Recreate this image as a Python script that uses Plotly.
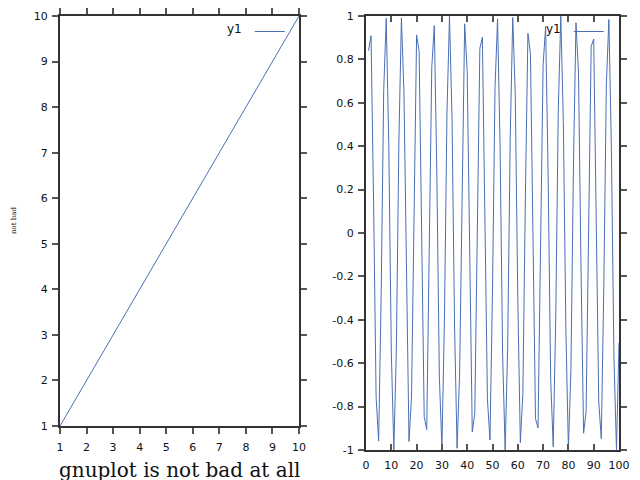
import plotly.graph_objects as go

# ---- data ----
line_x = [1, 2, 3, 4, 5, 6, 7, 8, 9, 10]
line_y = [1, 2, 3, 4, 5, 6, 7, 8, 9, 10]

wave_x = list(range(1, 101))
wave_y = [
    0.841, 0.909, 0.141, -0.757, -0.959, -0.279, 0.657, 0.989, 0.412, -0.544,
    -1.000, -0.537, 0.420, 0.991, 0.650, -0.288, -0.961, -0.751, 0.150, 0.913,
    0.837, -0.009, -0.846, -0.906, -0.132, 0.763, 0.956, 0.271, -0.664, -0.988,
    -0.404, 0.551, 1.000, 0.529, -0.428, -0.992, -0.644, 0.296, 0.964, 0.745,
    -0.158, -0.917, -0.832, 0.018, 0.851, 0.902, 0.124, -0.768, -0.954, -0.262,
    0.670, 0.987, 0.396, -0.559, -1.000, -0.522, 0.436, 0.993, 0.637, -0.305,
    -0.966, -0.739, 0.167, 0.920, 0.827, -0.027, -0.856, -0.898, -0.115, 0.774,
    0.951, 0.254, -0.677, -0.985, -0.388, 0.566, 0.999, 0.514, -0.444, -0.994,
    -0.629, 0.313, 0.969, 0.733, -0.176, -0.923, -0.822, 0.035, 0.860, 0.894,
    0.106, -0.779, -0.948, -0.245, 0.683, 0.984, 0.379, -0.573, -0.999, -0.506,
]

left_ticks = [1, 2, 3, 4, 5, 6, 7, 8, 9, 10]
right_xticks = [0, 10, 20, 30, 40, 50, 60, 70, 80, 90, 100]
right_yticks = [-1, -0.8, -0.6, -0.4, -0.2, 0, 0.2, 0.4, 0.6, 0.8, 1]
right_ylabels = ["-1", "-0.8", "-0.6", "-0.4", "-0.2", "0", "0.2", "0.4", "0.6", "0.8", "1"]

series_name = "y1"
x_title = "gnuplot is not bad at all"
y_title = "not bad"

LINE = "#4a6fb5"
FRAME = "#333333"
# page body adds an 8px margin; figure is sized/positioned to compensate
OFF = 8
W, H = 640 - OFF, 480 - OFF


def px(v):
    return (v - OFF) / W


def py(v):
    return 1 - (v - OFF) / H


fig = go.Figure()
fig.add_trace(go.Scatter(x=line_x, y=line_y, mode="lines", name=" ",
                         line=dict(color=LINE, width=1), xaxis="x", yaxis="y",
                         legend="legend", showlegend=True))
fig.add_trace(go.Scatter(x=wave_x, y=wave_y, mode="lines", name=" ",
                         line=dict(color=LINE, width=1), xaxis="x2", yaxis="y2",
                         legend="legend2", showlegend=True))

tickfont = dict(family="DejaVu Sans", size=11, color="#111111")
common = dict(showline=True, linewidth=2, linecolor=FRAME, showgrid=False,
              zeroline=False, tickwidth=2, tickcolor="#555555", ticklen=6,
              tickfont=tickfont, automargin=False, mirror="ticks")

# pixel geometry in the reference
L1, R1, T1, B1 = 60, 299, 16, 426
L2, R2, T2, B2 = 366, 619, 16, 450

legfont = dict(family="DejaVu Sans", size=12, color="#111111")

fig.update_layout(
    width=W, height=H,
    showlegend=True,
    margin=dict(l=0, r=0, t=0, b=0),
    paper_bgcolor="white", plot_bgcolor="white",
    xaxis=dict(domain=[px(L1), px(R1)], range=[1, 10], tickvals=left_ticks,
               ticks="outside", anchor="y", ticklabelstandoff=4, **common),
    yaxis=dict(domain=[py(B1), py(T1)], range=[1, 10], tickvals=left_ticks,
               ticks="outside", anchor="x", ticklabelstandoff=2, **common),
    xaxis2=dict(domain=[px(L2), px(R2)], range=[0, 100], tickvals=right_xticks,
                ticks="inside", anchor="y2", ticklabelstandoff=4, **common),
    yaxis2=dict(domain=[py(B2), py(T2)], range=[-1, 1], tickvals=right_yticks,
                ticktext=right_ylabels, ticks="outside", anchor="x2",
                ticklabelstandoff=2, **common),
    legend=dict(x=px(299), y=py(17), xanchor="right", yanchor="top",
                bgcolor="rgba(0,0,0,0)", borderwidth=0, font=legfont,
                title=dict(text=series_name, side="left", font=legfont),
                itemwidth=30, tracegroupgap=0),
    legend2=dict(x=px(618), y=py(17), xanchor="right", yanchor="top",
                 bgcolor="rgba(0,0,0,0)", borderwidth=0, font=legfont,
                 title=dict(text=series_name, side="left", font=legfont),
                 itemwidth=30, tracegroupgap=0),
    annotations=[
        dict(text=x_title, xref="paper", yref="paper", x=px((L1 + R1) / 2),
             y=py(470), xanchor="center", yanchor="middle", showarrow=False,
             font=dict(family="DejaVu Serif", size=20, color="#111111")),
        dict(text=y_title, xref="paper", yref="paper", x=px(14),
             y=py(221), xanchor="center", yanchor="middle", showarrow=False,
             textangle=-90,
             font=dict(family="DejaVu Serif", size=7, color="#111111")),
    ],
)

fig.write_html("out.html")
